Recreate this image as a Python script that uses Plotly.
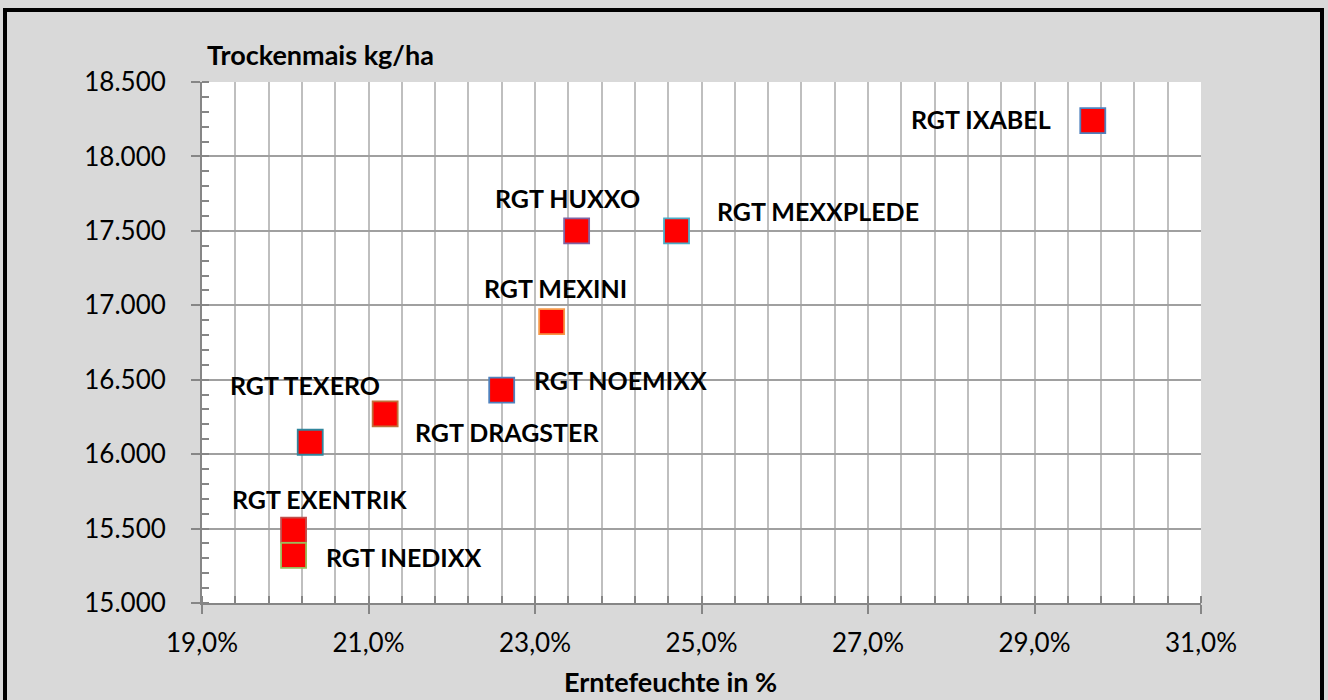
import plotly.graph_objects as go

# ---- data ----
sorten = ["RGT IXABEL", "RGT HUXXO", "RGT MEXXPLEDE", "RGT MEXINI", "RGT NOEMIXX",
          "RGT DRAGSTER", "RGT TEXERO", "RGT EXENTRIK", "RGT INEDIXX"]
feuchte = [0.297, 0.235, 0.247, 0.232, 0.226, 0.212, 0.203, 0.201, 0.201]
ertrag = [18240, 17500, 17500, 16890, 16430, 16270, 16080, 15490, 15320]

# ---- style ----
border_colors = ["#4F81BD", "#8064A2", "#4BACC6", "#F79646", "#4F81BD",
                 "#C0703A", "#31859C", "#C0504D", "#9BBB59"]
# label placement: (xshift, yshift, xanchor)
label_pos = {
    "RGT IXABEL": (-40, 2, "right"),
    "RGT HUXXO": (-9, 33, "center"),
    "RGT MEXXPLEDE": (38, 20, "left"),
    "RGT MEXINI": (4, 34, "center"),
    "RGT NOEMIXX": (30, 10, "left"),
    "RGT DRAGSTER": (28, -18, "left"),
    "RGT TEXERO": (-5, 57, "center"),
    "RGT EXENTRIK": (26, 31, "center"),
    "RGT INEDIXX": (30, -2, "left"),
}
FONT = "Lato, 'Open Sans', sans-serif"
LBL = 25
TTL = 27

fig = go.Figure()
fig.add_trace(go.Scatter(
    x=feuchte, y=ertrag, mode="markers", text=sorten,
    marker=dict(symbol="square", size=25, color="#FF0000",
                line=dict(color=border_colors, width=1.8)),
    showlegend=False, hoverinfo="text+x+y",
))

for name, xv, yv in zip(sorten, feuchte, ertrag):
    xs, ys, xa = label_pos[name]
    fig.add_annotation(x=xv, y=yv, text=f"<b>{name}</b>", showarrow=False,
                       xshift=xs, yshift=ys, xanchor=xa, yanchor="middle",
                       font=dict(family=FONT, size=LBL, color="black"))

# axis titles
fig.add_annotation(xref="paper", yref="paper", x=0.003, y=1.052,
                   text="<b>Trockenmais kg/ha</b>", showarrow=False,
                   xanchor="left", yanchor="middle",
                   font=dict(family=FONT, size=TTL, color="black"))
fig.add_annotation(xref="paper", yref="paper", x=0.4685, y=-0.150,
                   text="<b>Erntefeuchte in %</b>", showarrow=False,
                   xanchor="center", yanchor="middle",
                   font=dict(family=FONT, size=TTL, color="black"))

# outer black frame
L, R, T, B = 202, 127, 82, 97
W, H = 1328 - L - R, 700 - T - B
fig.add_shape(type="rect", xref="paper", yref="paper",
              x0=(5 - L) / W, x1=(1322 - L) / W,
              y0=(700 - B - 712) / H, y1=(700 - B - 10) / H,
              line=dict(color="black", width=4), fillcolor="rgba(0,0,0,0)", layer="above")

fig.update_layout(
    width=1328, height=700,
    margin=dict(l=L, r=R, t=T, b=B),
    paper_bgcolor="#D9D9D9", plot_bgcolor="white",
    separators=",.",
    font=dict(family=FONT, size=26, color="black"),
    xaxis=dict(
        range=[0.19, 0.31], dtick=0.02, tick0=0.19, tickformat=".1%",
        showline=True, linecolor="#868686", linewidth=2,
        ticks="outside", ticklen=9, tickwidth=2, tickcolor="#868686",
        showgrid=True, gridcolor="#BFBFBF", gridwidth=1.5, zeroline=False,
        minor=dict(dtick=0.004, tick0=0.19, ticks="inside", ticklen=7, tickwidth=2,
                   tickcolor="#868686", showgrid=True, gridcolor="#BFBFBF", gridwidth=1.5),
        ticklabelstandoff=7,
    ),
    yaxis=dict(
        range=[15000, 18500], dtick=500, tickformat=",.0f",
        showline=True, linecolor="#868686", linewidth=2,
        ticks="outside", ticklen=9, tickwidth=2, tickcolor="#868686",
        showgrid=True, gridcolor="#A0A0A0", gridwidth=2, zeroline=False,
        minor=dict(dtick=100, ticks="inside", ticklen=7, tickwidth=2,
                   tickcolor="#868686", showgrid=False),
        ticklabelstandoff=20,
    ),
)

fig.write_html("out.html", config={"displayModeBar": False},
               post_script="document.body.style.margin='0';document.body.style.overflow='hidden';")
